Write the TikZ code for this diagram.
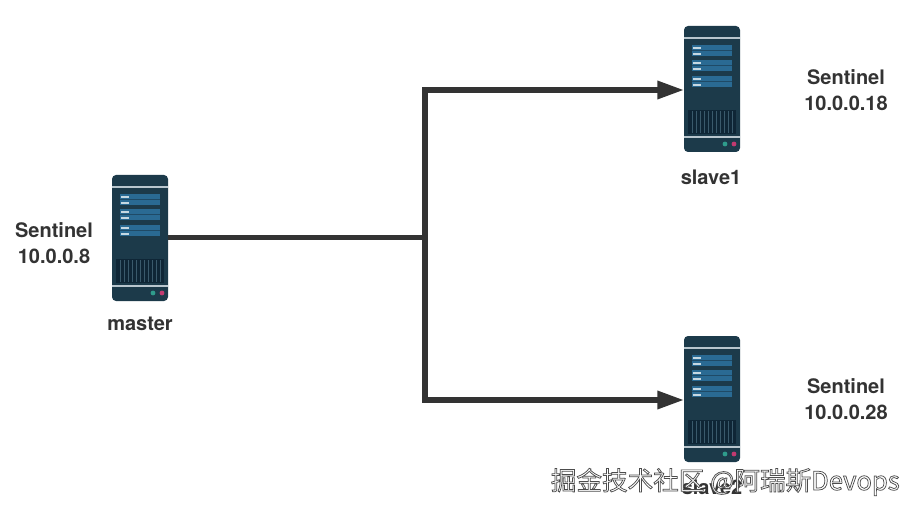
\documentclass[tikz,border=0pt]{standalone}
\usepackage{fontspec}
\setmainfont{TeX Gyre Heros}
\newfontfamily\cjk{Noto Sans CJK SC}
\usetikzlibrary{arrows.meta}
\definecolor{srvbody}{HTML}{1C3A4A}
\definecolor{srvline}{HTML}{B9C6CE}
\definecolor{srvpanel}{HTML}{2A6A93}
\definecolor{srvrow}{HTML}{1F4A66}
\definecolor{srvvent}{HTML}{0F2636}
\definecolor{srvbar}{HTML}{3A5A6C}
\definecolor{srvtick}{HTML}{C6D8E2}
\definecolor{ledgreen}{HTML}{2F9C8C}
\definecolor{ledpink}{HTML}{C23A70}
\definecolor{conn}{HTML}{333333}
\tikzset{
  x=0.75pt,y=-0.75pt,
  server/.style={draw=none,fill=srvbody,rounded corners=3pt,minimum width=42pt,minimum height=94.5pt,inner sep=0pt,outer sep=0pt},
  link/.style={draw=conn,line width=4pt},
  arrowlink/.style={link,-{Triangle[length=20pt,width=13pt]},shorten >=0pt},
  lbl/.style={font=\bfseries\fontsize{15pt}{19.6pt}\selectfont,text=conn,align=center,inner sep=0pt},
  wmark/.style={font=\cjk\fontsize{19.2pt}{23pt}\selectfont,inner sep=0pt,anchor=base east},
}
\newcommand{\serverdetail}[1]{%
  \begin{scope}[shift={(#1.north west)}]
    \fill[srvline] (0,11) rectangle (56,13);
    \fill[srvline] (0,110) rectangle (56,112);
    \fill[srvpanel] (8,19) rectangle (48,30);
    \fill[srvpanel] (8,34) rectangle (48,45);
    \fill[srvpanel] (8,50) rectangle (48,61);
    \foreach \yy in {24,39,55}{
      \fill[srvrow] (8,\yy) rectangle (48,\yy+1);
    }
    \foreach \yy in {21,27,36,42,52,58}{
      \fill[srvtick] (9,\yy) rectangle (17,\yy+2.4);
    }
    \fill[srvvent] (4,84) rectangle (52,108);
    \foreach \xx in {8,12,...,48}{
      \draw[srvbar,line width=0.5pt] (\xx,85) -- (\xx,107);
    }
    \fill[ledgreen] (41,118) circle (2.4);
    \fill[ledpink] (50,118) circle (2.4);
  \end{scope}}
\begin{document}
\begin{tikzpicture}
\useasboundingbox (0,0) rectangle (917,513);
\fill[white] (0,0) rectangle (917,513);
\coordinate (junction) at (425,237.5);
\coordinate (topturn) at (425,90);
\coordinate (botturn) at (425,400);

\node[server] (master) at (140,238) {};
\node[server] (slaveone) at (712,89) {};
\node[server] (slavetwo) at (712,399) {};
\serverdetail{master}
\serverdetail{slaveone}
\serverdetail{slavetwo}

\draw[link] (master.east |- junction) -- (junction);
\draw[arrowlink] (junction) -- (topturn) -- (slaveone.west |- topturn);
\draw[arrowlink] (junction) -- (botturn) -- (slavetwo.west |- botturn);

\node[lbl] (lmaster) at (54,243.5) {Sentinel\\10.0.0.8};
\node[lbl] (lone) at (846,90.5) {Sentinel\\10.0.0.18};
\node[lbl] (ltwo) at (846,399) {Sentinel\\10.0.0.28};
\node[lbl] (nmaster) at (140,324) {master};
\node[lbl] (none) at (711,177) {slave1};
\node[lbl] (ntwo) at (712,487) {slave2};

\node[wmark] (wm) at (900,490) {\special{pdf:code 2 Tr 0.55 w 0.3 0.3 0.3 RG 1 1 1 rg}掘金技术社区 @阿瑞斯Devops\special{pdf:code 0 Tr}};
\end{tikzpicture}
\end{document}
